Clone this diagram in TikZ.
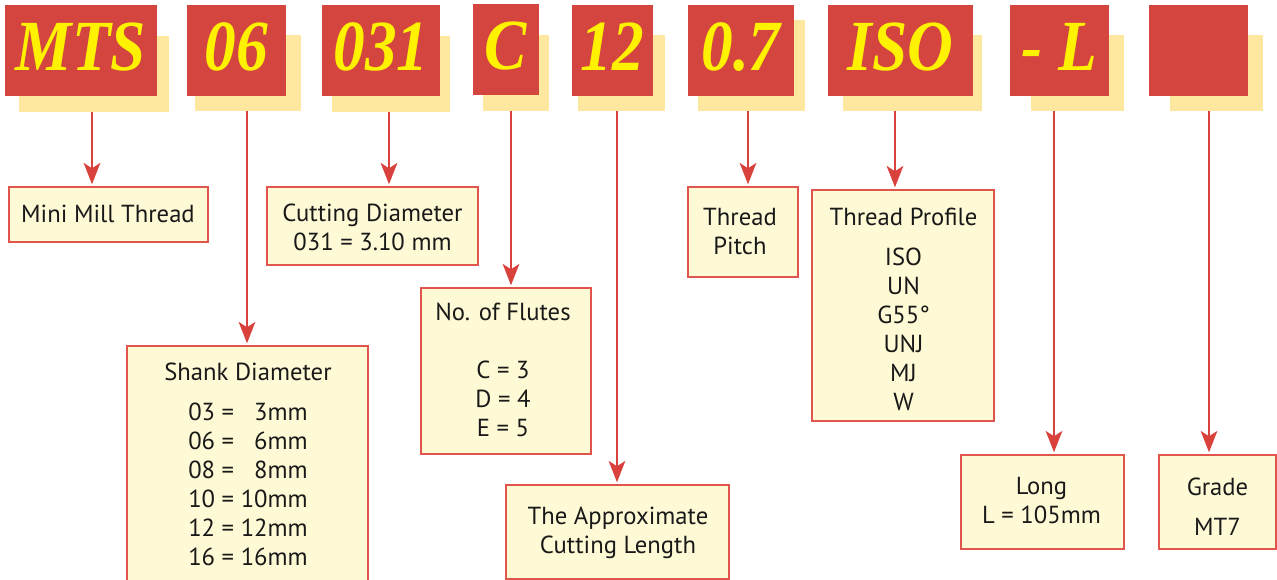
\documentclass[tikz,border=0pt]{standalone}
\usepackage{fontspec}
\setmainfont{PT Sans}
\newfontfamily\hdrfont[FakeStretch=0.88]{Liberation Serif}
\usetikzlibrary{arrows.meta,fit}
\definecolor{hdrred}{HTML}{D5453F}
\definecolor{shadowyel}{HTML}{FEE8A0}
\definecolor{hdrtext}{HTML}{FFF200}
\definecolor{boxfill}{HTML}{FFFAD6}
\definecolor{boxline}{HTML}{E0564D}
\definecolor{connred}{HTML}{D9423C}
\tikzset{
  shadowbox/.style={fill=shadowyel, draw=none, inner sep=0pt},
  hdrbox/.style={fill=hdrred, draw=none, inner sep=0pt},
  hdrlabel/.style={text=hdrtext, inner sep=0pt, anchor=center, yshift=2.5pt,
    font=\hdrfont\bfseries\itshape\fontsize{54}{54}\selectfont},
  infobox/.style={fill=boxfill, draw=boxline, line width=1.1pt, inner sep=0pt},
  infotext/.style={align=center, font=\fontsize{18.5}{21.75}\selectfont, text=black!90, inner sep=0pt},
  conn/.style={draw=connred, line width=1.2pt, -{Stealth[length=16pt,width=12.5pt,inset=4pt]}, shorten >=1.5pt},
}
\begin{document}
\begin{tikzpicture}[x=0.75pt,y=-0.75pt]
\useasboundingbox (0,0) rectangle (1277,580);
\clip (0,0) rectangle (1277,580);
% shadows
\node[shadowbox, fit={(19,36)(169,112)}] (s1) {};
\node[shadowbox, fit={(195,35)(301,111)}] (s2) {};
\node[shadowbox, fit={(332,36)(450,112)}] (s3) {};
\node[shadowbox, fit={(483,35)(549,111)}] (s4) {};
\node[shadowbox, fit={(578,35)(665,111)}] (s5) {};
\node[shadowbox, fit={(698,20)(805,111)}] (s6) {};
\node[shadowbox, fit={(843,35)(982,111)}] (s7) {};
\node[shadowbox, fit={(1031,35)(1124,111)}] (s8) {};
\node[shadowbox, fit={(1170,35)(1263,111)}] (s9) {};
% headers
\node[hdrbox, fit={(5,5)(157,96)}] (h1) {};
\node[hdrbox, fit={(187,5)(286,96)}] (h2) {};
\node[hdrbox, fit={(322,5)(440,96)}] (h3) {};
\node[hdrbox, fit={(473,4)(539,95)}] (h4) {};
\node[hdrbox, fit={(572,5)(653,96)}] (h5) {};
\node[hdrbox, fit={(688,5)(794,96)}] (h6) {};
\node[hdrbox, fit={(828,5)(973,96)}] (h7) {};
\node[hdrbox, fit={(1010,5)(1109,96)}] (h8) {};
\node[hdrbox, fit={(1149,5)(1248,96)}] (h9) {};
\node[hdrlabel] (l1) at (h1.center) {MTS};
\node[hdrlabel] (l2) at (h2.center) {06};
\node[hdrlabel] (l3) at (h3.center) {031};
\node[hdrlabel] (l4) at (h4.center) {C};
\node[hdrlabel] (l5) at (h5.center) {12};
\node[hdrlabel] (l6) at (h6.center) {0.7};
\node[hdrlabel] (l7) at (h7.center) {ISO};
\node[hdrlabel] (l8) at (h8.center) {- L};
% info boxes
\node[infobox, fit={(9,187)(208,242)}] (b1) {};
\node[infobox, fit={(267,187)(478,265)}] (b2) {};
\node[infobox, fit={(127,346)(368,600)}] (b3) {};
\node[infobox, fit={(421,288)(591,454)}] (b4) {};
\node[infobox, fit={(506,485)(729,579)}] (b5) {};
\node[infobox, fit={(688,187)(798,277)}] (b6) {};
\node[infobox, fit={(812,190)(994,421)}] (b7) {};
\node[infobox, fit={(961,455)(1124,549)}] (b8) {};
\node[infobox, fit={(1159,455)(1276,549)}] (b9) {};
% texts
\node[infotext] (t1) at (108,214) {Mini Mill Thread};
\node[infotext] (t2) at (372.5,227.5) {Cutting Diameter\\031 = 3.10 mm};
\node[infotext] (t3) at (248,464.5) {Shank Diameter\\[8pt]03 = \phantom{1}3mm\\06 = \phantom{1}6mm\\08 = \phantom{1}8mm\\10 = 10mm\\12 = 12mm\\16 = 16mm};
\node[infotext] (t4) at (503,370) {No. of Flutes\\[21.75pt]C = 3\\D = 4\\E = 5};
\node[infotext] (t5) at (618,533) {The Approximate\\Cutting Length};
\node[infotext] (t6) at (740,231.5) {Thread\\Pitch};
\node[infotext] (t7) at (903.5,309.5) {Thread Profile\\[8pt]ISO\\UN\\G55°\\UNJ\\MJ\\W};
\node[infotext] (t8) at (1041.5,501) {Long\\L = 105mm};
\node[infotext] (t9) at (1217.5,507) {Grade\\[8pt]MT7};
% connectors
\coordinate (x1) at (92,0);
\coordinate (x2) at (247,0);
\coordinate (x3) at (389,0);
\coordinate (x4) at (511,0);
\coordinate (x5) at (617,0);
\coordinate (x6) at (748,0);
\coordinate (x7) at (895,0);
\coordinate (x8) at (1054,0);
\coordinate (x9) at (1209,0);
\draw[conn] (s1.south -| x1) -- (b1.north -| x1);
\draw[conn] (s2.south -| x2) -- (b3.north -| x2);
\draw[conn] (s3.south -| x3) -- (b2.north -| x3);
\draw[conn] (s4.south -| x4) -- (b4.north -| x4);
\draw[conn] (s5.south -| x5) -- (b5.north -| x5);
\draw[conn] (s6.south -| x6) -- (b6.north -| x6);
\draw[conn] (s7.south -| x7) -- (b7.north -| x7);
\draw[conn] (s8.south -| x8) -- (b8.north -| x8);
\draw[conn] (s9.south -| x9) -- (b9.north -| x9);
\end{tikzpicture}
\end{document}
